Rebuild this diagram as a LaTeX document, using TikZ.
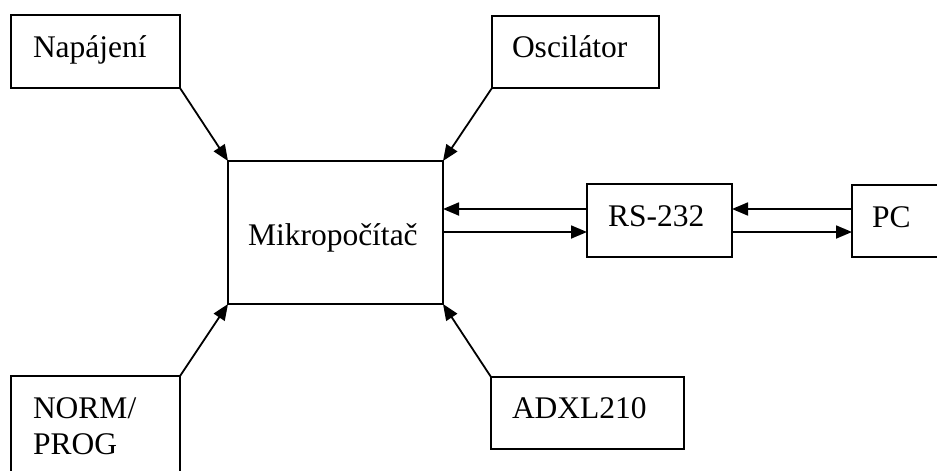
\documentclass[tikz,border=0pt]{standalone}
\usepackage{fontspec}
\setmainfont{Liberation Serif}
\usetikzlibrary{arrows.meta}

\tikzset{
  blockbox/.style={draw, line width=1.8pt, inner sep=0pt, outer sep=0pt,
    anchor=north west, minimum width=#1},
  lbl/.style={anchor=base west, inner sep=0pt, outer sep=0pt,
    font=\fontsize{31.5}{36}\selectfont},
  arr/.style={line width=1.8pt, -{Triangle[length=16pt,width=13pt]}}
}

\begin{document}
\begin{tikzpicture}[x=1pt,y=-1pt]
  \useasboundingbox (0,0) rectangle (937,471);

  % blocks
  \node[blockbox=169pt, minimum height=73pt] (nap)  at (11,15)  {};
  \node[blockbox=167pt, minimum height=72pt] (osc)  at (492,16) {};
  \node[blockbox=215pt, minimum height=143pt] (mcu) at (228,161) {};
  \node[blockbox=145pt, minimum height=73pt] (rs)   at (587,184) {};
  \node[blockbox=100pt, minimum height=72pt] (pc)   at (852,185) {};
  \node[blockbox=169pt, minimum height=110pt] (norm) at (11,376) {};
  \node[blockbox=193pt, minimum height=72pt] (adxl) at (491,377) {};

  % labels
  \node[lbl] (napT)  at (33,57)   {Napájení};
  \node[lbl] (oscT)  at (512,57)  {Oscilátor};
  \node[lbl] (mcuT)  at (248,245) {Mikropočítač};
  \node[lbl] (rsT)   at (608,226) {RS-232};
  \node[lbl] (pcT)   at (872,227) {PC};
  \node[lbl] (normT) at (33,418)  {NORM/};
  \node[lbl] (progT) at (33,454)  {PROG};
  \node[lbl] (adxlT) at (512,418) {ADXL210};

  % diagonal inputs to the microcontroller
  \draw[arr] (nap.south east)  -- (mcu.north west);
  \draw[arr] (osc.south west)  -- (mcu.north east);
  \draw[arr] (norm.north east) -- (mcu.south west);
  \draw[arr] (adxl.north west) -- (mcu.south east);

  % serial link
  \coordinate (upper) at (0,209);
  \coordinate (lower) at (0,232);
  \draw[arr] (rs.west |- upper) -- (mcu.east |- upper);
  \draw[arr] (mcu.east |- lower) -- (rs.west |- lower);
  \draw[arr] (pc.west |- upper)  -- (rs.east |- upper);
  \draw[arr] (rs.east |- lower)  -- (pc.west |- lower);
\end{tikzpicture}
\end{document}
